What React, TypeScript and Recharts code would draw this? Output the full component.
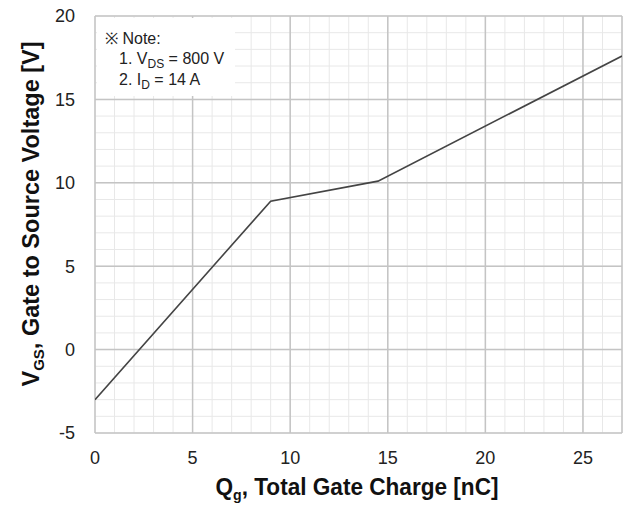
import { LineChart, Line, XAxis, YAxis, ReferenceLine } from "recharts";

// gate charge (nC) vs gate-source voltage (V)
const qg = [0, 9, 14.5, 27];
const vgs = [-3, 8.9, 10.1, 17.6];

const xTicks = [0, 5, 10, 15, 20, 25];
const yTicks = [-5, 0, 5, 10, 15, 20];
const xMinor = Array.from({ length: 28 }, (_, i) => i);
const yMinor = Array.from({ length: 26 }, (_, i) => i - 5);

const data = qg.map((q, i) => ({ q, v: vgs[i] }));

const font = "'Liberation Sans', Arial, sans-serif";

const XLabel = () => (
  <text
    x={357}
    y={495}
    textAnchor="middle"
    fontFamily={font}
    fontWeight="bold"
    fontSize={24}
    fill="#111"
    textLength={283}
    lengthAdjust="spacingAndGlyphs"
  >
    Q<tspan fontSize={15} dy={5}>g</tspan>
    <tspan dy={-5}>, Total Gate Charge [nC]</tspan>
  </text>
);

const YLabel = () => (
  <text
    x={0}
    y={0}
    transform="translate(39, 214) rotate(-90)"
    textAnchor="middle"
    fontFamily={font}
    fontWeight="bold"
    fontSize={23.5}
    fill="#111"
  >
    V<tspan fontSize={15} dy={5}>GS</tspan>
    <tspan dy={-5}>, Gate to Source Voltage [V]</tspan>
  </text>
);

export default function App() {
  return (
    <div style={{ position: "absolute", left: 0, top: 0, width: 630, height: 507, background: "#fff" }}>
      <LineChart
        width={630}
        height={507}
        data={data}
        margin={{ top: 16, right: 8, left: 0, bottom: 0 }}
      >
        <XAxis
          dataKey="q"
          type="number"
          domain={[0, 27]}
          ticks={xTicks}
          allowDataOverflow
          height={74}
          axisLine={false}
          tickLine={false}
          tick={{ fill: "#222", fontSize: 18, fontFamily: font }}
          tickMargin={12}
          label={<XLabel />}
        />
        <YAxis
          type="number"
          domain={[-5, 20]}
          ticks={yTicks}
          allowDataOverflow
          width={95}
          axisLine={false}
          tickLine={false}
          tick={{ fill: "#222", fontSize: 18, fontFamily: font }}
          tickMargin={14}
          label={<YLabel />}
        />
        {xMinor.map((x) => (
          <ReferenceLine key={"mx" + x} x={x} stroke="#e8e8e8" strokeWidth={1} />
        ))}
        {yMinor.map((y) => (
          <ReferenceLine key={"my" + y} y={y} stroke="#e8e8e8" strokeWidth={1} />
        ))}
        {xTicks.concat([27]).map((x) => (
          <ReferenceLine key={"Mx" + x} x={x} stroke="#c4c4c4" strokeWidth={1.5} />
        ))}
        {yTicks.map((y) => (
          <ReferenceLine key={"My" + y} y={y} stroke="#c4c4c4" strokeWidth={1.5} />
        ))}
        <Line
          dataKey="v"
          stroke="#444"
          strokeWidth={1.6}
          dot={false}
          isAnimationActive={false}
        />
      </LineChart>
      <div
        style={{
          position: "absolute",
          left: 97,
          top: 18,
          width: 138,
          height: 78,
          background: "#fff",
          fontFamily: font,
          fontSize: 16,
          color: "#222",
          lineHeight: "20px",
        }}
      >
        <div style={{ position: "absolute", left: 8, top: 11 }}>※ Note:</div>
        <div style={{ position: "absolute", left: 22, top: 31 }}>
          1. V<sub style={{ fontSize: 12, verticalAlign: -4 }}>DS</sub> = 800 V
        </div>
        <div style={{ position: "absolute", left: 22, top: 52 }}>
          2. I<sub style={{ fontSize: 12, verticalAlign: -4 }}>D</sub> = 14 A
        </div>
      </div>
    </div>
  );
}
